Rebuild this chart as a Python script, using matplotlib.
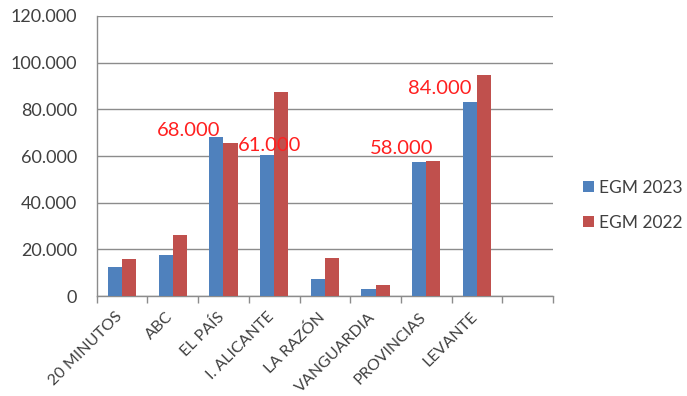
import numpy as np
import matplotlib
matplotlib.use("Agg")
import matplotlib.pyplot as plt
import matplotlib.transforms as mtransforms
from matplotlib.ticker import FuncFormatter

# Datos
medios = ["20 MINUTOS", "ABC", "EL PAÍS", "I. ALICANTE", "LA RAZÓN",
          "VANGUARDIA", "PROVINCIAS", "LEVANTE"]
egm_2023 = [12600, 17600, 68000, 60500, 7100, 3100, 57300, 83300]
egm_2022 = [15700, 26100, 65700, 87300, 16100, 4700, 57700, 94900]

# Etiquetas rojas (texto, posicion en categoria, altura)
notas_texto = ["68.000", "61.000", "58.000", "84.000"]
notas_x = [1.32, 2.90, 5.52, 6.27]
notas_y = [71000, 64700, 63400, 89000]

azul = "#4F81BD"
rojo = "#C0504D"
gris = "#404040"

plt.rcParams['font.family'] = ['Lato', 'DejaVu Sans']

fig = plt.figure(figsize=(6.87, 3.96), dpi=100)
ax = fig.add_axes([0.1408, 0.2525, 0.805 - 0.1408, 0.9596 - 0.2525])

x = np.arange(len(medios))
ancho = 0.28
ax.bar(x - ancho / 2, egm_2023, ancho, color=azul, label="EGM 2023", zorder=3)
ax.bar(x + ancho / 2, egm_2022, ancho, color=rojo, label="EGM 2022", zorder=3)

for t, nx, ny in zip(notas_texto, notas_x, notas_y):
    ax.text(nx, ny, t, color="#FF2020", fontsize=14.5, ha="center", va="center", zorder=4)

ax.set_xlim(-0.5, 8.5)
ax.set_ylim(0, 120000)
ax.set_yticks(np.arange(0, 120001, 20000))
ax.yaxis.set_major_formatter(FuncFormatter(lambda v, p: "0" if v == 0 else f"{int(v):,}".replace(",", ".")))
ax.yaxis.grid(True, color="#8C8C8C", linewidth=1, zorder=0)

# etiquetas en el centro, marcas entre categorias
ax.set_xticks(x)
ax.set_xticklabels(medios, rotation=45, ha="right", rotation_mode="anchor", fontsize=11.5, color=gris)
ax.tick_params(axis="x", which="major", length=0, pad=7)
desplazar = mtransforms.ScaledTranslation(-7 / 100, -4 / 100, fig.dpi_scale_trans)
for lbl in ax.get_xticklabels():
    lbl.set_transform(lbl.get_transform() + desplazar)
ax.set_xticks(np.arange(-0.5, 9, 1), minor=True)
ax.tick_params(axis="x", which="minor", length=5, color="#8C8C8C", width=1)
ax.tick_params(axis="y", length=0, labelsize=13, colors=gris, pad=14)

for s in ["top", "right"]:
    ax.spines[s].set_visible(False)
for s in ["left", "bottom"]:
    ax.spines[s].set_color("#8C8C8C")
    ax.spines[s].set_linewidth(1)

ax.legend(loc="center left", bbox_to_anchor=(0.849, 0.482), bbox_transform=fig.transFigure,
          frameon=False, fontsize=12.5, handlelength=0.6, handleheight=0.6, handletextpad=0.3,
          labelspacing=1.1, labelcolor=gris, borderpad=0, borderaxespad=0)

fig.savefig("out.png", dpi=100)
